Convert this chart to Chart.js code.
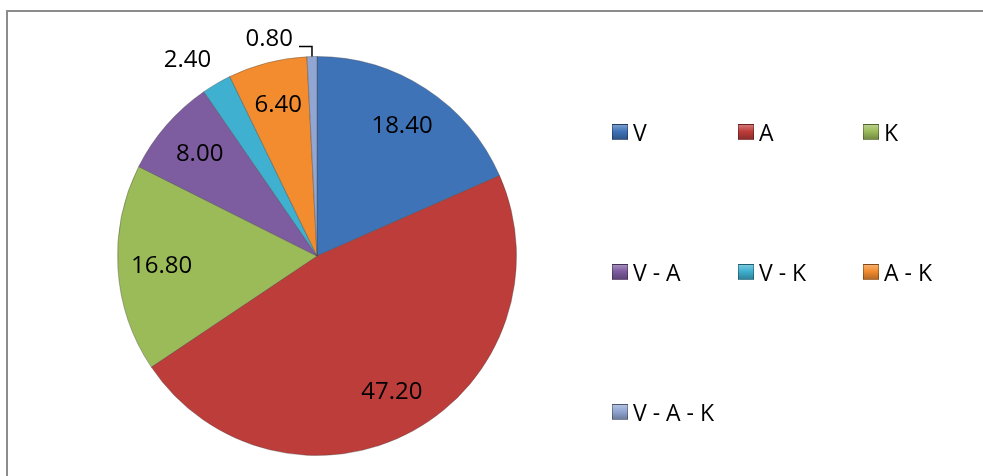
<!DOCTYPE html>
<html>
<head>
<meta charset="utf-8">
<script src="https://cdn.jsdelivr.net/npm/chart.js@4"></script>
<style>
    body { margin: 0; background: #fff; }
    #wrap { position: relative; width: 983px; height: 476px; overflow: hidden; font-family: 'Open Sans', sans-serif; }
    #frame { position: absolute; left: 6px; top: 10px; width: 1000px; height: 500px; border-top: 2px solid #8c8c8c; border-left: 2px solid #8c8c8c; }
    #pieChart { position: absolute; left: 0; top: 0; }
    #legend { position: absolute; left: 612px; top: 120px; display: grid; grid-template-columns: 126px 125px 120px; grid-auto-rows: 140px; }
    .item { display: flex; align-items: center; height: 24px; font-size: 23px; color: #000; white-space: nowrap; }
    .box { width: 16px; height: 16px; margin-right: 5px; box-sizing: border-box; border: 1px solid rgba(0,0,0,0.3); }
</style>
</head>
<body>
<div id="wrap">
    <div id="frame"></div>
    <canvas id="pieChart" width="983" height="476"></canvas>
    <div id="legend"></div>
</div>
<script>
const labels = ['V', 'A', 'K', 'V - A', 'V - K', 'A - K', 'V - A - K'];
const values = [18.40, 47.20, 16.80, 8.00, 2.40, 6.40, 0.80];
const colors = ['#3f73b8', '#bd3d3a', '#9bbb59', '#7e5ca0', '#3fb0cf', '#f28c2e', '#91a6d2'];

function shade(hex, amt) {
    let n = parseInt(hex.slice(1), 16);
    let r = (n >> 16) & 255, g = (n >> 8) & 255, b = n & 255;
    const f = v => Math.max(0, Math.min(255, Math.round(amt > 0 ? v + (255 - v) * amt : v * (1 + amt))));
    return 'rgb(' + f(r) + ',' + f(g) + ',' + f(b) + ')';
}

// bevel-ish look: flat centre, lighter rim, dark outer edge
function sliceFill(ctx) {
    const c = colors[ctx.dataIndex];
    const el = ctx.element;
    if (!el || !el.outerRadius) return c;
    const g = ctx.chart.ctx.createRadialGradient(el.x, el.y, 0, el.x, el.y, el.outerRadius);
    g.addColorStop(0, c);
    g.addColorStop(0.9, c);
    g.addColorStop(0.95, shade(c, 0.18));
    g.addColorStop(1, shade(c, -0.2));
    return g;
}

const valueLabels = {
    id: 'valueLabels',
    afterDatasetsDraw(chart) {
        const ctx = chart.ctx;
        const arcs = chart.getDatasetMeta(0).data;
        ctx.save();
        ctx.font = '24px "Open Sans"';
        ctx.fillStyle = '#000';
        ctx.textBaseline = 'middle';
        arcs.forEach((arc, i) => {
            const p = arc.getProps(['x', 'y', 'startAngle', 'endAngle', 'outerRadius'], true);
            const mid = (p.startAngle + p.endAngle) / 2;
            const txt = values[i].toFixed(2);
            if (values[i] >= 3) {
                const r = p.outerRadius * 0.78;
                ctx.textAlign = 'center';
                ctx.fillText(txt, p.x + Math.cos(mid) * r, p.y + Math.sin(mid) * r);
            } else if (values[i] >= 1.5) {
                const r = p.outerRadius + 34;
                ctx.textAlign = 'center';
                ctx.fillText(txt, p.x + Math.cos(mid) * r - 12, p.y + Math.sin(mid) * r + 6);
            } else {
                // leader line for the smallest slice
                const ex = p.x + Math.cos(mid) * p.outerRadius;
                const ey = p.y + Math.sin(mid) * p.outerRadius;
                ctx.strokeStyle = '#000';
                ctx.lineWidth = 1.5;
                ctx.beginPath();
                ctx.moveTo(ex, ey);
                ctx.lineTo(ex, ey - 10);
                ctx.lineTo(ex - 13, ey - 10);
                ctx.stroke();
                ctx.textAlign = 'right';
                ctx.fillText(txt, ex - 19, ey - 17);
            }
        });
        ctx.restore();
    }
};

Chart.defaults.font.family = '"Open Sans", sans-serif';

const pieChart = new Chart(document.getElementById('pieChart'), {
    type: 'pie',
    data: {
        labels: labels,
        datasets: [{
            data: values,
            backgroundColor: sliceFill,
            borderColor: 'rgba(60,60,60,0.35)',
            borderWidth: 1
        }]
    },
    options: {
        responsive: false,
        animation: false,
        layout: { padding: { left: 117, right: 466, top: 56, bottom: 20 } },
        plugins: {
            legend: { display: false },
            tooltip: { enabled: false }
        }
    },
    plugins: [valueLabels]
});

const legendEl = document.getElementById('legend');
labels.forEach((lab, i) => {
    const item = document.createElement('div');
    item.className = 'item';
    const box = document.createElement('span');
    box.className = 'box';
    box.style.background = 'linear-gradient(' + shade(colors[i], 0.3) + ', ' + colors[i] + ' 45%, ' + shade(colors[i], -0.25) + ')';
    item.appendChild(box);
    item.appendChild(document.createTextNode(lab));
    legendEl.appendChild(item);
});
</script>
</body>
</html>
